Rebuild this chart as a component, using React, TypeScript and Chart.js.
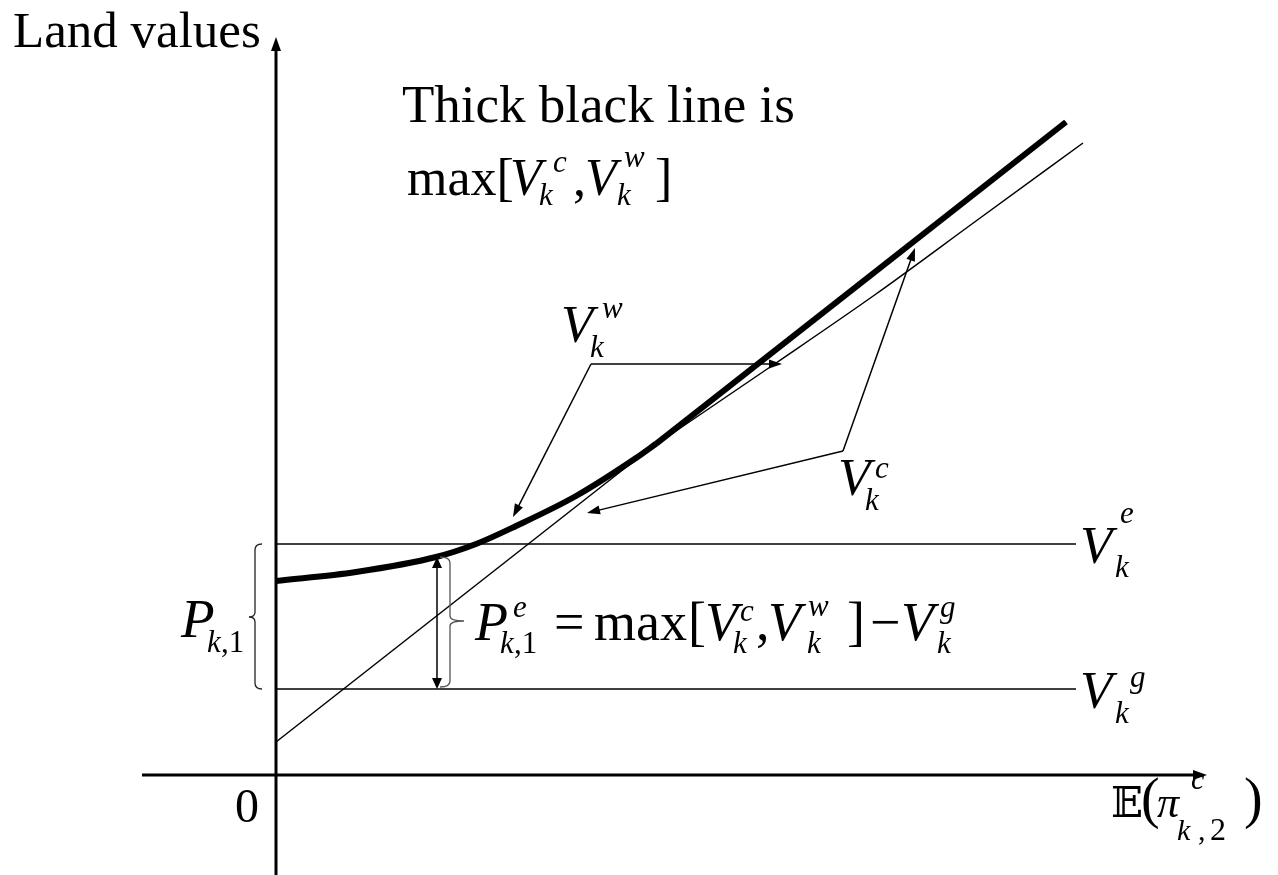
import React, { useEffect, useRef } from "react";
import { Chart, registerables } from "chart.js";

Chart.register(...registerables);

// ---- scale window (data units) ----
const X_MIN = -2.76;
const X_MAX = 10.02;
const Y_MIN = -1.0;
const Y_MAX = 7.75;

// ---- axes ----
const xAxisX = [-1.34, 9.2];
const xAxisTip = 9.31;
const yAxisY = [-1.0, 7.26];
const yAxisTip = 7.38;

// ---- curves ----
const vcX = [0, 7.9];
const vcY = [0.33, 6.53];
const vwX = [0, 0.8, 1.6, 2.0, 2.4, 3.0, 3.6, 4.0, 5.0, 6.0, 7.0, 8.07];
const vwY = [1.94, 2.03, 2.18, 2.31, 2.49, 2.79, 3.17, 3.44, 4.12, 4.81, 5.54, 6.32];
const crossX = 3.8;
const veLevel = 2.31;
const vgLevel = 0.86;
const levelEndX = 8.0;

// ---- annotation geometry (data units) ----
const leaders = [
  { vx: 3.15, vy: 4.11, tips: [[5.06, 4.11], [2.37, 2.58]] },
  { vx: 5.67, vy: 3.24, tips: [[3.11, 2.62], [6.39, 5.27]] },
];
const dblArrowX = 1.61;
const dblArrowY = [2.18, 0.86];
const braces = [
  { x: -0.21, top: 2.31, bottom: 0.86, tip: 1.58, dir: -1, depth: 7, tipLen: 6, color: "#222" },
  { x: 1.74, top: 2.18, bottom: 0.88, tip: 1.54, dir: 1, depth: 10, tipLen: 14, color: "#555" },
];

type Run = { t: string; f: "R" | "I" | "D"; s: number; ox: number; oy: number };
type Label = { x: number; y: number; runs: Run[] };

const labels: Label[] = [
  { x: -2.63, y: 7.28, runs: [{ t: "Land values", f: "R", s: 51, ox: 0, oy: 0 }] },
  { x: 1.26, y: 6.53, runs: [{ t: "Thick black line is", f: "R", s: 53, ox: 0, oy: 0 }] },
  {
    x: 1.31, y: 5.8,
    runs: [
      { t: "max[", f: "R", s: 52, ox: 0, oy: 0 },
      { t: "V", f: "I", s: 52, ox: 103, oy: 0 },
      { t: "c", f: "I", s: 31, ox: 146, oy: -23 },
      { t: "k", f: "I", s: 31, ox: 132, oy: 10 },
      { t: ",", f: "R", s: 52, ox: 166, oy: 0 },
      { t: "V", f: "I", s: 52, ox: 178, oy: 0 },
      { t: "w", f: "I", s: 31, ox: 217, oy: -28 },
      { t: "k", f: "I", s: 31, ox: 210, oy: 10 },
      { t: "]", f: "R", s: 52, ox: 248, oy: 0 },
    ],
  },
  {
    x: 2.87, y: 4.33,
    runs: [
      { t: "V", f: "I", s: 53, ox: -2, oy: 0 },
      { t: "w", f: "I", s: 31, ox: 39, oy: -24 },
      { t: "k", f: "I", s: 31, ox: 27, oy: 15 },
    ],
  },
  {
    x: 5.64, y: 2.8,
    runs: [
      { t: "V", f: "I", s: 53, ox: -2, oy: 0 },
      { t: "c", f: "I", s: 31, ox: 35, oy: -17 },
      { t: "k", f: "I", s: 31, ox: 25, oy: 15 },
    ],
  },
  {
    x: 8.06, y: 2.12,
    runs: [
      { t: "V", f: "I", s: 53, ox: -2, oy: 0 },
      { t: "e", f: "I", s: 31, ox: 38, oy: -40 },
      { t: "k", f: "I", s: 31, ox: 33, oy: 14 },
    ],
  },
  {
    x: 8.06, y: 0.67,
    runs: [
      { t: "V", f: "I", s: 53, ox: -2, oy: 0 },
      { t: "g", f: "I", s: 31, ox: 48, oy: -21 },
      { t: "k", f: "I", s: 31, ox: 33, oy: 15 },
    ],
  },
  {
    x: -0.93, y: 1.38,
    runs: [
      { t: "P", f: "I", s: 55, ox: -2, oy: 0 },
      { t: "k", f: "I", s: 31, ox: 24, oy: 15 },
      { t: ",1", f: "R", s: 31, ox: 38, oy: 15 },
    ],
  },
  {
    x: 2.01, y: 1.35,
    runs: [
      { t: "P", f: "I", s: 54, ox: -2, oy: 0 },
      { t: "e", f: "I", s: 31, ox: 36, oy: -23 },
      { t: "k", f: "I", s: 31, ox: 23, oy: 13 },
      { t: ",1", f: "R", s: 31, ox: 37, oy: 13 },
      { t: "=", f: "R", s: 54, ox: 77, oy: 0 },
      { t: "max", f: "R", s: 54, ox: 117, oy: 0 },
      { t: "[", f: "R", s: 54, ox: 211, oy: 0 },
      { t: "V", f: "I", s: 54, ox: 228, oy: 0 },
      { t: "c", f: "I", s: 31, ox: 263, oy: -19 },
      { t: "k", f: "I", s: 31, ox: 256, oy: 13 },
      { t: ",", f: "R", s: 54, ox: 279, oy: 0 },
      { t: "V", f: "I", s: 54, ox: 291, oy: 0 },
      { t: "w", f: "I", s: 31, ox: 331, oy: -24 },
      { t: "k", f: "I", s: 31, ox: 330, oy: 13 },
      { t: "]", f: "R", s: 54, ox: 370, oy: 0 },
      { t: "\u2212", f: "R", s: 54, ox: 393, oy: 0 },
      { t: "V", f: "I", s: 54, ox: 424, oy: 0 },
      { t: "g", f: "I", s: 31, ox: 463, oy: -23 },
      { t: "k", f: "I", s: 31, ox: 460, oy: 13 },
    ],
  },
  { x: -0.39, y: -0.47, runs: [{ t: "0", f: "R", s: 48, ox: -2, oy: 0 }] },
  {
    x: 8.37, y: -0.42,
    runs: [
      { t: "\u{1D53C}", f: "D", s: 42, ox: -2, oy: 0 },
      { t: "(", f: "R", s: 56, ox: 28, oy: 0 },
      { t: "\u03C0", f: "I", s: 44, ox: 44, oy: 0 },
      { t: "c", f: "I", s: 30, ox: 78, oy: -28 },
      { t: "k", f: "I", s: 30, ox: 64, oy: 23 },
      { t: ",", f: "R", s: 30, ox: 85, oy: 23 },
      { t: "2", f: "R", s: 32, ox: 97, oy: 23 },
      { t: ")", f: "R", s: 56, ox: 131, oy: 0 },
    ],
  },
];

const SERIF = '"Liberation Serif", "Times New Roman", "DejaVu Serif", serif';
const DSFONT = '"DejaVu Serif", "DejaVu Sans", "Noto Sans", serif';

function fontOf(r: Run) {
  if (r.f === "I") return `italic ${r.s}px ${SERIF}`;
  if (r.f === "D") return `${r.s}px ${DSFONT}`;
  return `${r.s}px ${SERIF}`;
}

function head(ctx: CanvasRenderingContext2D, fx: number, fy: number, tx: number, ty: number, len: number, half: number) {
  const dx = tx - fx, dy = ty - fy;
  const d = Math.hypot(dx, dy) || 1;
  const ux = dx / d, uy = dy / d;
  const bx = tx - ux * len, by = ty - uy * len;
  ctx.beginPath();
  ctx.moveTo(tx, ty);
  ctx.lineTo(bx - uy * half, by + ux * half);
  ctx.lineTo(bx + uy * half, by - ux * half);
  ctx.closePath();
  ctx.fill();
}

function arrowLine(ctx: CanvasRenderingContext2D, fx: number, fy: number, tx: number, ty: number, len: number, half: number) {
  const dx = tx - fx, dy = ty - fy;
  const d = Math.hypot(dx, dy) || 1;
  const ux = dx / d, uy = dy / d;
  ctx.beginPath();
  ctx.moveTo(fx, fy);
  ctx.lineTo(tx - ux * len * 0.7, ty - uy * len * 0.7);
  ctx.stroke();
  head(ctx, fx, fy, tx, ty, len, half);
}

const annotPlugin = {
  id: "annot",
  afterDatasetsDraw(chart: any) {
    const ctx: CanvasRenderingContext2D = chart.ctx;
    const xs = chart.scales.x;
    const ys = chart.scales.y;
    const px = (u: number) => xs.getPixelForValue(u);
    const py = (v: number) => ys.getPixelForValue(v);
    ctx.save();
    ctx.fillStyle = "#000";
    ctx.strokeStyle = "#000";

    // axis arrowheads
    head(ctx, px(xAxisX[0]), py(0), px(xAxisTip), py(0), 14, 5);
    head(ctx, px(0), py(yAxisY[0]), px(0), py(yAxisTip), 14, 5);

    // leaders
    ctx.lineWidth = 1.5;
    ctx.lineCap = "butt";
    for (const l of leaders) {
      for (const t of l.tips) {
        arrowLine(ctx, px(l.vx), py(l.vy), px(t[0]), py(t[1]), 13, 4.5);
      }
    }

    // double arrow
    const ax = px(dblArrowX);
    const a0 = py(dblArrowY[0]);
    const a1 = py(dblArrowY[1]);
    ctx.beginPath();
    ctx.moveTo(ax, a0 + 8);
    ctx.lineTo(ax, a1 - 8);
    ctx.stroke();
    head(ctx, ax, a1, ax, a0, 11, 5);
    head(ctx, ax, a0, ax, a1, 11, 5);

    // braces
    for (const b of braces) {
      const x = px(b.x);
      const yT = py(b.top);
      const yB = py(b.bottom);
      const yM = py(b.tip);
      const end = x - b.dir * b.depth;
      ctx.strokeStyle = b.color;
      ctx.lineWidth = 1.3;
      ctx.beginPath();
      ctx.moveTo(end, yT);
      ctx.quadraticCurveTo(x, yT, x, yT + 6);
      ctx.lineTo(x, yM - 5);
      ctx.quadraticCurveTo(x, yM, x + b.dir * b.tipLen, yM);
      ctx.moveTo(x + b.dir * b.tipLen, yM);
      ctx.quadraticCurveTo(x, yM, x, yM + 5);
      ctx.lineTo(x, yB - 6);
      ctx.quadraticCurveTo(x, yB, end, yB);
      ctx.stroke();
    }

    // labels
    ctx.fillStyle = "#000";
    ctx.textBaseline = "alphabetic";
    ctx.textAlign = "left";
    for (const lab of labels) {
      const bx = px(lab.x);
      const by = py(lab.y);
      for (const r of lab.runs) {
        ctx.font = fontOf(r);
        ctx.fillText(r.t, bx + r.ox, by + r.oy);
      }
    }
    ctx.restore();
  },
};

export default function App() {
  const ref = useRef<HTMLCanvasElement>(null);
  useEffect(() => {
    const canvas = ref.current;
    if (!canvas) return;
    const pts = (xs: number[], ys: number[]) => xs.map((x, i) => ({ x, y: ys[i] }));
    const vcAt = (x: number) => vcY[0] + ((vcY[1] - vcY[0]) * (x - vcX[0])) / (vcX[1] - vcX[0]);
    const joint = { x: crossX, y: vcAt(crossX) };
    const thickCurve = [...pts(vwX, vwY).filter((p) => p.x < crossX), joint];
    const thickStraight = [joint, { x: vcX[1], y: vcY[1] }];
    const line = (data: any[], width: number, extra: any = {}) => ({
      data,
      borderColor: "#000",
      backgroundColor: "#000",
      borderWidth: width,
      pointRadius: 0,
      fill: false,
      tension: 0,
      ...extra,
    });
    const chart = new Chart(canvas, {
      type: "line",
      data: {
        datasets: [
          line(pts(xAxisX, [0, 0]), 3),
          line(pts([0, 0], yAxisY), 3),
          line(pts([0, levelEndX], [veLevel, veLevel]), 1.5),
          line(pts([0, levelEndX], [vgLevel, vgLevel]), 1.5),
          line(pts(vcX, vcY), 1.5),
          line(pts(vwX, vwY), 1.5, { cubicInterpolationMode: "monotone" }),
          line(thickCurve, 6, { cubicInterpolationMode: "monotone" }),
          line(thickStraight, 6),
        ] as any,
      },
      options: {
        responsive: false,
        animation: false,
        devicePixelRatio: 1,
        events: [],
        layout: { padding: 0 },
        elements: { line: { borderCapStyle: "butt", borderJoinStyle: "round" } },
        scales: {
          x: { type: "linear", min: X_MIN, max: X_MAX, display: false },
          y: { type: "linear", min: Y_MIN, max: Y_MAX, display: false },
        },
        plugins: { legend: { display: false }, tooltip: { enabled: false }, title: { display: false } },
      } as any,
      plugins: [annotPlugin],
    });
    return () => chart.destroy();
  }, []);
  return (
    <div style={{ position: "absolute", left: 0, top: 0, width: 1278, height: 875, background: "#fff" }}>
      <canvas ref={ref} width={1278} height={875} style={{ display: "block" }} />
    </div>
  );
}
